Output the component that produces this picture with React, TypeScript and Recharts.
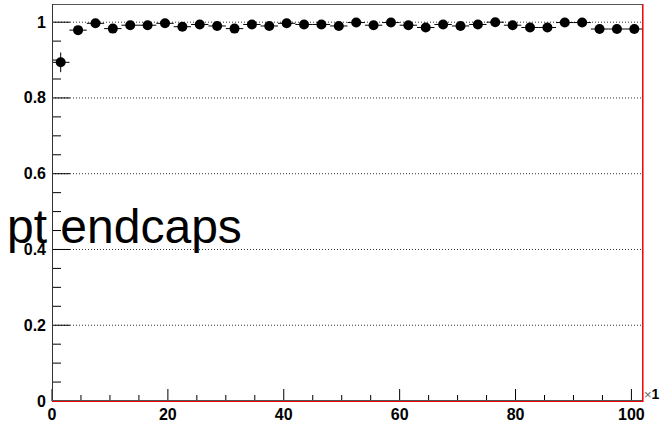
import { ErrorBar, ReferenceLine, Scatter, ScatterChart, XAxis, YAxis } from "recharts";

// bin centres (3 GeV wide bins, 0..102)
const binCenters = [
  1.5, 4.5, 7.5, 10.5, 13.5, 16.5, 19.5, 22.5, 25.5, 28.5, 31.5, 34.5,
  37.5, 40.5, 43.5, 46.5, 49.5, 52.5, 55.5, 58.5, 61.5, 64.5, 67.5, 70.5,
  73.5, 76.5, 79.5, 82.5, 85.5, 88.5, 91.5, 94.5, 97.5, 100.5,
];

const efficiency = [
  0.894, 0.979, 0.997, 0.983, 0.992, 0.992, 0.997, 0.988, 0.994, 0.99, 0.983, 0.994,
  0.99, 0.997, 0.994, 0.994, 0.99, 0.999, 0.992, 0.999, 0.992, 0.986, 0.994, 0.99,
  0.994, 1.0, 0.992, 0.986, 0.986, 0.999, 0.999, 0.982, 0.982, 0.982,
];

const efficiencyErr = [
  0.026, 0.008, 0.004, 0.006, 0.005, 0.005, 0.004, 0.005, 0.004, 0.005, 0.006, 0.004,
  0.005, 0.003, 0.004, 0.004, 0.005, 0.002, 0.004, 0.002, 0.004, 0.006, 0.004, 0.005,
  0.004, 0.002, 0.004, 0.006, 0.006, 0.002, 0.002, 0.007, 0.007, 0.007,
];

const halfBin = 1.5;

const xTicks = [0, 5, 10, 15, 20, 25, 30, 35, 40, 45, 50, 55, 60, 65, 70, 75, 80, 85, 90, 95, 100];
const xMajor = [0, 20, 40, 60, 80, 100];
const yTicks = [
  0, 0.05, 0.1, 0.15, 0.2, 0.25, 0.3, 0.35, 0.4, 0.45, 0.5, 0.55, 0.6, 0.65, 0.7, 0.75, 0.8,
  0.85, 0.9, 0.95, 1,
];
const yMajor = [0, 0.2, 0.4, 0.6, 0.8, 1];
const gridValues = [0.2, 0.4, 0.6, 0.8, 1];

const data = binCenters.map((x, i) => ({
  x,
  y: efficiency[i],
  ex: halfBin,
  ey: efficiencyErr[i],
}));

const W = 666;
const H = 433;
const labelFont = "'Liberation Sans', Arial, Helvetica, sans-serif";

const isMajor = (list: number[], v: number) => list.some((m) => Math.abs(m - v) < 1e-6);

function YTick(props: any) {
  const { x, y, payload } = props;
  const v = payload.value as number;
  const major = isMajor(yMajor, v);
  return (
    <g>
      <line x1={x} x2={x + (major ? 18 : 9)} y1={y} y2={y} stroke="#000" strokeWidth={1} />
      {major && (
        <text
          x={x - 6}
          y={y}
          textAnchor="end"
          dominantBaseline="central"
          fontFamily={labelFont}
          fontWeight="bold"
          fontSize={16}
          fill="#000"
        >
          {String(Number(v.toFixed(2)))}
        </text>
      )}
    </g>
  );
}

function XTick(props: any) {
  const { x, y, payload } = props;
  const v = payload.value as number;
  const major = isMajor(xMajor, v);
  return (
    <g>
      <line x1={x} x2={x} y1={y} y2={y - (major ? 12 : 6)} stroke="#000" strokeWidth={1} />
      {major && (
        <text
          x={x}
          y={y + 19}
          textAnchor="middle"
          fontFamily={labelFont}
          fontWeight="bold"
          fontSize={16}
          fill="#000"
        >
          {v}
        </text>
      )}
    </g>
  );
}

function Marker(props: any) {
  const { cx, cy } = props;
  return <circle cx={cx} cy={cy} r={5} fill="#000" />;
}

export default function App() {
  return (
    <div style={{ position: "absolute", left: 0, top: 0, width: W, height: H, background: "#fff" }}>
      <ScatterChart width={W} height={H} margin={{ top: 4, right: 23, bottom: 0, left: 0 }}>
        <XAxis
          type="number"
          dataKey="x"
          domain={[0, 102]}
          ticks={xTicks}
          interval={0}
          height={32}
          tickSize={0}
          tickMargin={0}
          tickLine={false}
          axisLine={false}
          tick={<XTick />}
          allowDataOverflow
        />
        <YAxis
          type="number"
          dataKey="y"
          domain={[0, 1.048]}
          ticks={yTicks}
          interval={0}
          width={52}
          tickSize={0}
          tickMargin={0}
          tickLine={false}
          axisLine={false}
          tick={<YTick />}
          allowDataOverflow
        />
        {gridValues.map((g) => (
          <ReferenceLine key={g} y={g} stroke="#333" strokeDasharray="1 2" strokeWidth={1} />
        ))}
        <Scatter data={data} shape={<Marker />} isAnimationActive={false}>
          <ErrorBar dataKey="ex" direction="x" width={0} stroke="#000" strokeWidth={1} />
          <ErrorBar dataKey="ey" direction="y" width={0} stroke="#000" strokeWidth={1} />
        </Scatter>
      </ScatterChart>
      <svg
        width={W}
        height={H}
        style={{ position: "absolute", left: 0, top: 0, pointerEvents: "none" }}
      >
        {/* frame */}
        <line x1={52} x2={643} y1={4.5} y2={4.5} stroke="#555" strokeWidth={1} />
        <line x1={52.5} x2={52.5} y1={4} y2={401} stroke="#333" strokeWidth={1} />
        <line x1={52} x2={643} y1={400.5} y2={400.5} stroke="#555" strokeWidth={1} />
        <line x1={52} x2={643} y1={401.5} y2={401.5} stroke="#e00" strokeWidth={1.2} />
        <line x1={642.8} x2={642.8} y1={4} y2={402} stroke="#e00" strokeWidth={1.5} />
        <text x={644} y={399} fontFamily={labelFont} fontSize={14} fill="#000">
          <tspan fill="#666" fontSize={13}>×</tspan>
          <tspan fontWeight="bold">1</tspan>
        </text>
        <text x={7} y={243} fontFamily={labelFont} fontSize={48} fill="#000">
          pt endcaps
        </text>
      </svg>
    </div>
  );
}
